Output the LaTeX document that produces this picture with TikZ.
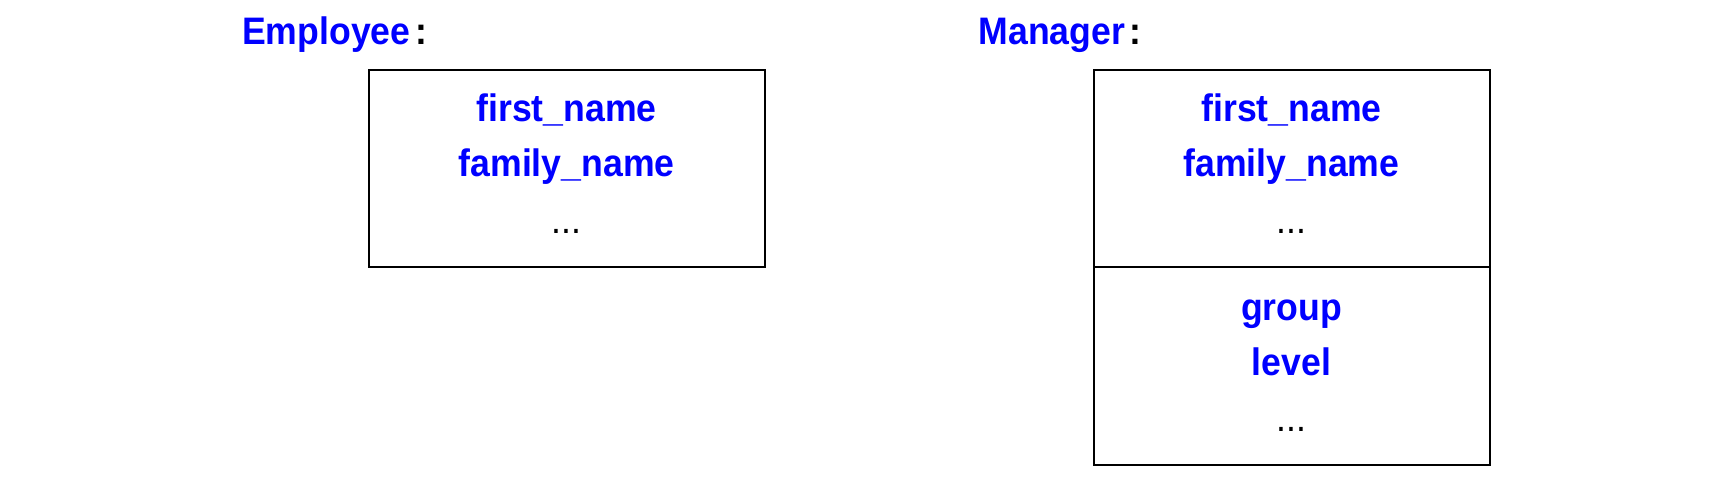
\documentclass[tikz,border=0pt]{standalone}
\usepackage{fontspec}
\setmainfont[FakeStretch=0.93]{Liberation Sans}
\usetikzlibrary{shapes,arrows}

\begin{document}
\begin{tikzpicture}[
    every node/.style={font=\fontsize{10.9}{13}\selectfont},
    classbox/.style={rectangle, draw, line width=0.57pt,
                     minimum width=3.96cm, minimum height=1.975cm},
    title/.style={anchor=base west, inner sep=0pt, text=blue, font=\fontsize{10.9}{13}\selectfont\bfseries},
    field/.style={anchor=base, inner sep=0pt, text=blue, font=\fontsize{10.9}{13}\selectfont\bfseries},
    more/.style={anchor=base, inner sep=0pt}]

      \useasboundingbox (0,0) rectangle (17.18,4.79);

      % Employee
      \node[title] (emptitle) at (2.415,4.34) {Employee\kern0.12em\textcolor{black}{:}};

      \node[classbox] (emp) at (5.666,3.1035) {};
      \node[field] (empfirst) at (5.666,3.573) {first\_name};
      \node[field] (empfamily) at (5.666,3.023) {family\_name};
      \node[more] (empmore) at (5.666,2.46) {...};

      % Manager
      \node[title] (mgrtitle) at (9.78,4.34) {Manager\kern0.12em\textcolor{black}{:}};

      \node[classbox] (mgr) at (12.915,3.1035) {};
      \node[field] (mgrfirst) at (12.915,3.573) {first\_name};
      \node[field] (mgrfamily) at (12.915,3.023) {family\_name};
      \node[more] (mgrmore) at (12.915,2.46) {...};

      \node[classbox] (mgrext) at (12.915,1.1285) {};
      \node[field] (mgrgroup) at (12.915,1.59) {group};
      \node[field] (mgrlevel) at (12.915,1.033) {level};
      \node[more] (mgrextmore) at (12.915,0.473) {...};

\end{tikzpicture}
\end{document}
